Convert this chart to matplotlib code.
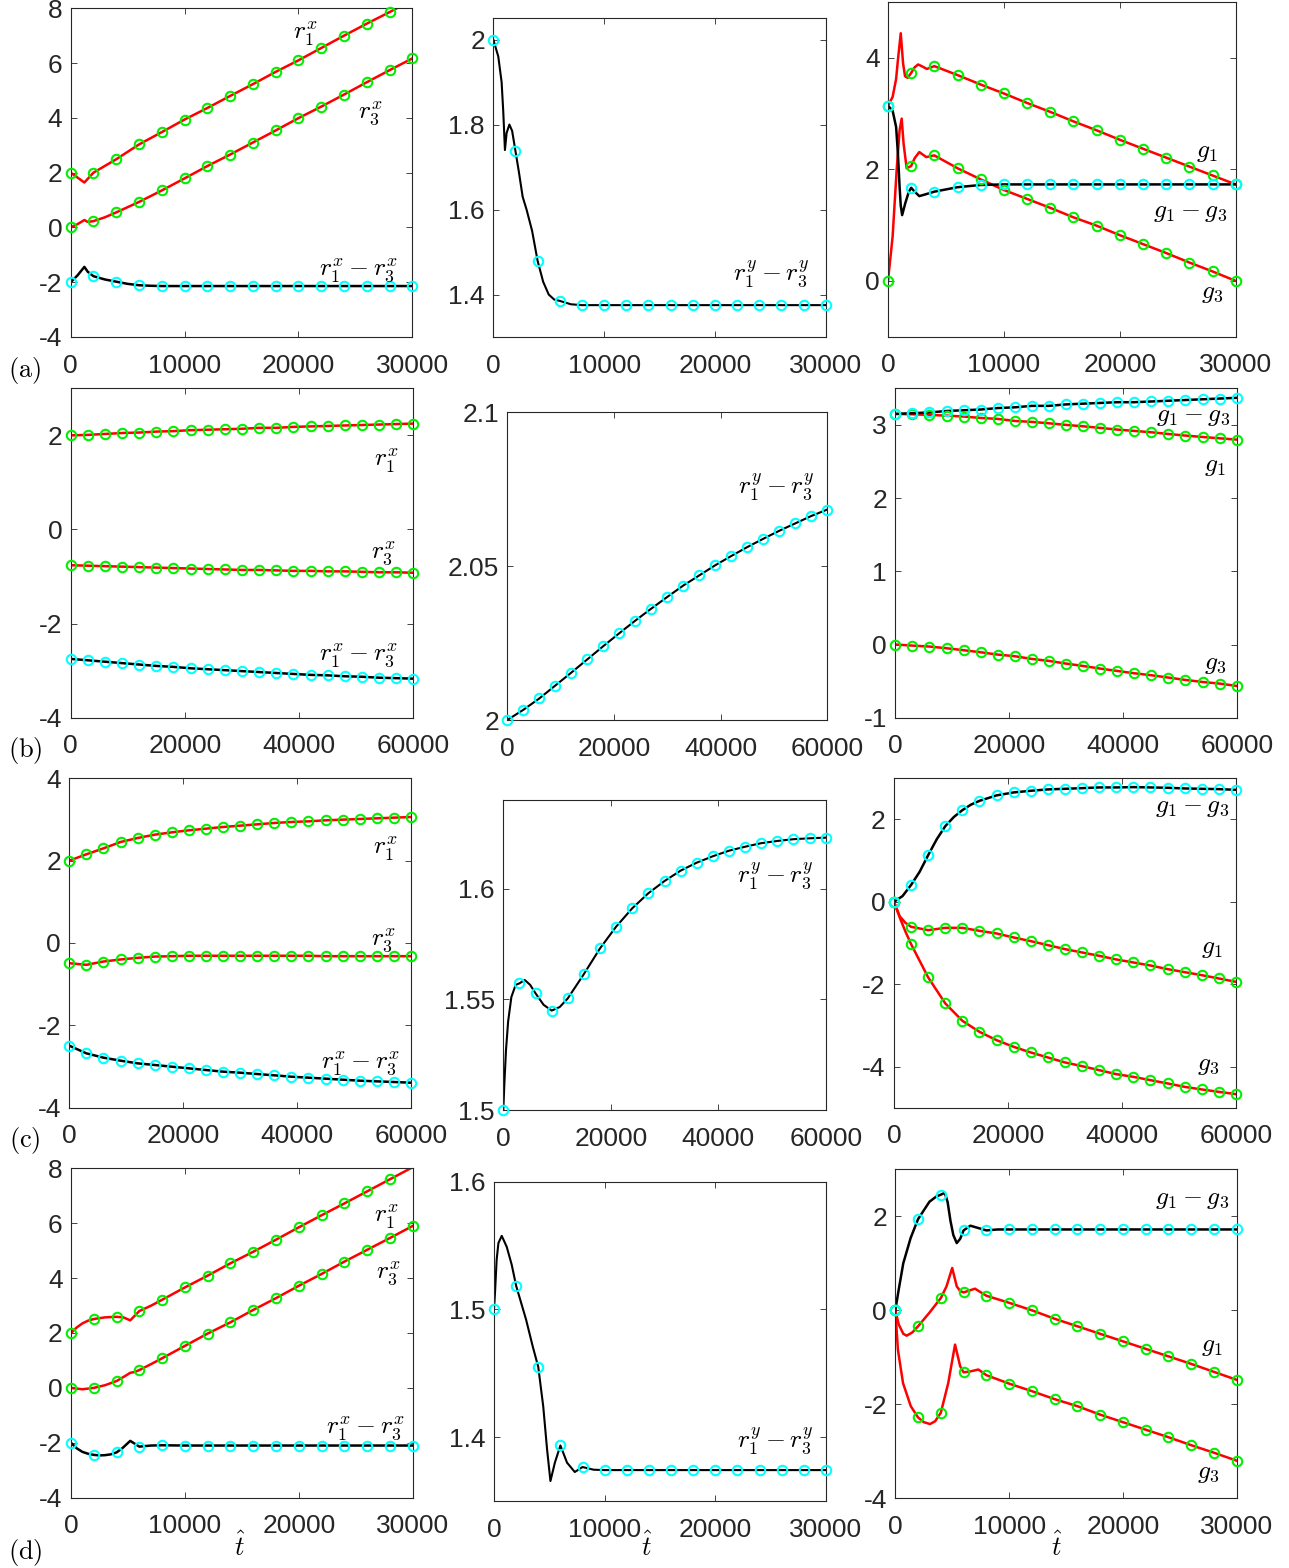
import numpy as np
import matplotlib
matplotlib.use('Agg')
import matplotlib.pyplot as plt
from matplotlib.ticker import FuncFormatter

plt.rcParams['font.family'] = ['Liberation Sans', 'DejaVu Sans']
plt.rcParams['mathtext.fontset'] = 'cm'
plt.rcParams['axes.unicode_minus'] = False

# ---------------- data ----------------
# row (a): markers every 2000
a_r1_t = [0, 1200, 2000] + list(range(4000, 30001, 2000))
a_r1 = [2.0, 1.64, 2.0, 2.49, 3.03, 3.48, 3.94, 4.36, 4.80, 5.23, 5.68, 6.10,
        6.55, 7.00, 7.44, 7.86, 8.30]
a_r3_t = [0, 600, 1200, 1500, 2000, 3000, 4000] + list(range(6000, 30001, 2000))
a_r3 = [0.0, 0.12, 0.27, 0.20, 0.23, 0.37, 0.55, 0.93, 1.35, 1.79, 2.24, 2.66,
        3.10, 3.54, 3.99, 4.41, 4.85, 5.30, 5.74, 6.17]
a_dx_t = [0, 600, 1200, 1500, 2000, 3000, 4000, 5000, 6000, 7000, 8000] + list(range(10000, 30001, 2000))
a_dx = [-2.0, -1.75, -1.44, -1.62, -1.78, -1.90, -1.98, -2.06, -2.11, -2.13, -2.14,
        -2.14, -2.14, -2.14, -2.14, -2.14, -2.14, -2.14, -2.14, -2.14, -2.14, -2.14]

a_dy_t = [0, 450, 750, 900, 1050, 1200, 1450, 1700, 2000, 2300, 2650, 3000, 3500,
          4000, 4500, 5000, 5500, 6000, 7000, 8000] + list(range(10000, 30001, 2000))
a_dy = [2.0, 1.96, 1.90, 1.83, 1.74, 1.78, 1.80, 1.785, 1.7375, 1.69, 1.63, 1.60, 1.55,
        1.479, 1.43, 1.40, 1.388, 1.385, 1.377, 1.375,
        1.375, 1.375, 1.375, 1.375, 1.375, 1.375, 1.375, 1.375, 1.375, 1.375, 1.375]

a_g1_t = [0, 400, 700, 850, 1100, 1300, 1470, 1700, 2000, 2300, 2600, 3000, 3350,
          4000] + list(range(6000, 30001, 2000))
a_g1 = [3.14, 3.30, 3.62, 3.95, 4.44, 3.90, 3.67, 3.64, 3.73, 3.83, 3.88, 3.84, 3.80,
        3.85, 3.69, 3.52, 3.36, 3.19, 3.03, 2.86, 2.70, 2.53, 2.37, 2.21, 2.05, 1.89, 1.73]
a_g3_t = [0, 400, 750, 1000, 1180, 1350, 1610, 2000, 2300, 2700, 3300, 4000] + list(range(6000, 30001, 2000))
a_g3 = [0.0, 0.80, 2.00, 2.70, 2.91, 2.45, 2.02, 2.06, 2.20, 2.31, 2.22, 2.25,
        2.02, 1.82, 1.63, 1.47, 1.31, 1.14, 0.99, 0.82, 0.66, 0.50, 0.33, 0.17, 0.0]
a_gd_t = [0, 400, 700, 850, 1000, 1100, 1220, 1500, 1800, 2000, 2300, 2700, 3200,
          4000, 6000, 8000] + list(range(10000, 30001, 2000))
a_gd = [3.14, 3.05, 2.76, 2.30, 1.69, 1.35, 1.18, 1.40, 1.60, 1.67, 1.60, 1.52, 1.55,
        1.60, 1.68, 1.72, 1.73, 1.73, 1.73, 1.73, 1.73, 1.73, 1.73, 1.73, 1.73, 1.73, 1.73]

# rows (b), (c): markers every 3000
t60 = list(range(0, 60001, 3000))
b_r1 = [2.00, 2.01, 2.03, 2.05, 2.06, 2.08, 2.09, 2.11, 2.12, 2.13, 2.14, 2.16, 2.16,
        2.18, 2.19, 2.20, 2.21, 2.22, 2.23, 2.24, 2.25]
b_r3 = [-0.76, -0.77, -0.78, -0.79, -0.80, -0.81, -0.82, -0.83, -0.84, -0.85, -0.86,
        -0.86, -0.87, -0.88, -0.88, -0.89, -0.89, -0.90, -0.91, -0.91, -0.92]
b_dx = [-2.75, -2.78, -2.81, -2.84, -2.87, -2.90, -2.92, -2.95, -2.97, -2.99, -3.01,
        -3.03, -3.05, -3.07, -3.09, -3.10, -3.12, -3.13, -3.15, -3.16, -3.17]
b_dy = [2.0, 2.0033, 2.0070, 2.0112, 2.0154, 2.0197, 2.0240, 2.0282, 2.0323, 2.0362,
        2.0400, 2.0437, 2.0470, 2.0503, 2.0533, 2.0562, 2.0589, 2.0615, 2.0639, 2.0663, 2.0684]
b_gd = [3.15, 3.16, 3.17, 3.19, 3.20, 3.21, 3.23, 3.24, 3.26, 3.26, 3.28, 3.29, 3.30,
        3.31, 3.31, 3.32, 3.33, 3.34, 3.35, 3.36, 3.37]
b_g1 = [3.15, 3.145, 3.136, 3.127, 3.114, 3.095, 3.082, 3.054, 3.041, 3.022, 3.000,
        2.981, 2.959, 2.936, 2.918, 2.899, 2.876, 2.854, 2.835, 2.817, 2.799]
b_g3 = [0.0, -0.015, -0.028, -0.051, -0.078, -0.106, -0.138, -0.160, -0.197, -0.224,
        -0.261, -0.293, -0.329, -0.361, -0.393, -0.420, -0.452, -0.484, -0.512, -0.534, -0.566]

c_r1 = [2.000, 2.154, 2.299, 2.453, 2.550, 2.631, 2.688, 2.737, 2.777, 2.818, 2.850,
        2.882, 2.915, 2.939, 2.955, 2.980, 2.996, 3.012, 3.028, 3.044, 3.060]
c_r3 = [-0.49, -0.53, -0.45, -0.40, -0.36, -0.33, -0.32, -0.31, -0.31, -0.31, -0.31,
        -0.31, -0.31, -0.31, -0.31, -0.32, -0.32, -0.32, -0.32, -0.32, -0.32]
c_dx = [-2.494, -2.680, -2.785, -2.858, -2.923, -2.963, -3.004, -3.044, -3.085, -3.125,
        -3.150, -3.182, -3.214, -3.247, -3.271, -3.295, -3.320, -3.344, -3.360, -3.376, -3.393]
c_dy_t = [0, 200, 500, 900, 1500, 2300, 3000, 4000, 5000, 6000, 7500, 9000, 10500,
          12000] + list(range(15000, 60001, 3000))
c_dy = [1.5, 1.512, 1.527, 1.540, 1.551, 1.5565, 1.5572, 1.5587, 1.5565, 1.5527, 1.5475,
        1.5449, 1.5465, 1.5504, 1.5614, 1.5730, 1.5828, 1.5911, 1.5979, 1.6034, 1.6081,
        1.6117, 1.6146, 1.6171, 1.6189, 1.6205, 1.6215, 1.6223, 1.6227, 1.6230]
c_gd_t = [0, 1500, 3000, 4500, 6000, 7500, 9000, 10500, 12000, 13500, 15000] + list(range(18000, 60001, 3000))
c_gd = [0.0, 0.14, 0.41, 0.73, 1.135, 1.52, 1.838, 2.06, 2.227, 2.36, 2.453, 2.585,
        2.657, 2.697, 2.730, 2.745, 2.761, 2.778, 2.778, 2.786, 2.778, 2.770, 2.753,
        2.745, 2.737, 2.720]
c_g1_t = [0, 1000, 2000] + list(range(3000, 60001, 3000))
c_g1 = [0.0, -0.35, -0.51, -0.607, -0.688, -0.632, -0.632, -0.705, -0.769, -0.866,
        -0.955, -1.052, -1.149, -1.230, -1.311, -1.400, -1.473, -1.546, -1.635, -1.708,
        -1.781, -1.862, -1.943]
c_g3_t = [0, 1000, 2000] + list(range(3000, 60001, 3000))
c_g3 = [0.0, -0.38, -0.72, -1.028, -1.837, -2.468, -2.890, -3.158, -3.360, -3.522,
        -3.659, -3.780, -3.901, -3.991, -4.088, -4.185, -4.251, -4.331, -4.411, -4.494,
        -4.557, -4.615, -4.671]

# row (d): markers every 2000
d_r1_t = [0, 500, 1000, 1500, 2000, 3000, 4000, 4600, 5200, 6000, 7000, 8000] + list(range(10000, 30001, 2000))
d_r1 = [2.0, 2.2, 2.35, 2.45, 2.51, 2.57, 2.59, 2.57, 2.46, 2.80, 2.99, 3.21,
        3.66, 4.09, 4.54, 4.96, 5.40, 5.85, 6.29, 6.72, 7.16, 7.60, 8.04]
d_r3_t = [0, 1000, 2000, 3000, 4000, 4700, 5200, 5600, 6000, 7000, 8000] + list(range(10000, 30001, 2000))
d_r3 = [0.0, -0.05, 0.0, 0.10, 0.25, 0.42, 0.55, 0.58, 0.65, 0.86, 1.08,
        1.53, 1.98, 2.39, 2.84, 3.27, 3.72, 4.15, 4.60, 5.03, 5.46, 5.90]
d_dx_t = [0, 500, 1000, 1500, 2000, 2500, 3000, 3500, 4000, 4500, 5200, 5700, 6000,
          7000, 8000] + list(range(10000, 30001, 2000))
d_dx = [-2.0, -2.2, -2.33, -2.40, -2.44, -2.46, -2.45, -2.42, -2.35, -2.2, -1.93, -2.06,
        -2.14, -2.10, -2.09, -2.10, -2.10, -2.10, -2.10, -2.10, -2.10, -2.10, -2.10,
        -2.10, -2.10, -2.10]
d_dy_t = [0, 90, 240, 400, 700, 1150, 1600, 2000, 2900, 3500, 4000, 4450, 4800, 5100,
          5500, 6000, 6600, 7300, 8000, 9000] + list(range(10000, 30001, 2000))
d_dy = [1.5, 1.513, 1.539, 1.552, 1.5576, 1.549, 1.535, 1.5185, 1.492, 1.471, 1.4549,
        1.424, 1.390, 1.3656, 1.380, 1.3935, 1.380, 1.3727, 1.3766, 1.3745,
        1.3742, 1.3742, 1.3742, 1.3742, 1.3742, 1.3742, 1.3742, 1.3742, 1.3742, 1.3742, 1.3742]
d_gd_t = [0, 300, 700, 1350, 2000, 3000, 3600, 4000, 4350, 4600, 4850, 5100, 5400,
          5700, 6000, 6600, 7300, 8000, 9000] + list(range(10000, 30001, 2000))
d_gd = [0.0, 0.44, 1.0, 1.54, 1.94, 2.31, 2.42, 2.46, 2.50, 2.30, 1.90, 1.60, 1.43,
        1.52, 1.70, 1.80, 1.75, 1.70, 1.72,
        1.72, 1.72, 1.72, 1.72, 1.72, 1.72, 1.72, 1.72, 1.72, 1.72, 1.72]
d_g1_t = [0, 300, 700, 1000, 1500, 2000, 3000, 4000, 4500, 5000, 5400, 5700, 6000,
          7000, 8000] + list(range(10000, 30001, 2000))
d_g1 = [0.0, -0.30, -0.50, -0.54, -0.47, -0.34, -0.05, 0.26, 0.51, 0.90, 0.51, 0.41,
        0.38, 0.46, 0.31, 0.16, 0.0, -0.18, -0.34, -0.50, -0.66, -0.82, -0.98, -1.14,
        -1.31, -1.48]
d_g3_t = [0, 230, 680, 1360, 2000, 2500, 3050, 3500, 4000, 4650, 5250, 5700, 6000,
          6600, 7300, 8000] + list(range(10000, 30001, 2000))
d_g3 = [0.0, -0.84, -1.55, -2.04, -2.28, -2.38, -2.42, -2.36, -2.18, -1.55, -0.73,
        -1.19, -1.32, -1.30, -1.26, -1.38, -1.56, -1.72, -1.89, -2.04, -2.22, -2.38,
        -2.54, -2.70, -2.87, -3.03, -3.20]

# ---------------- figure ----------------
W, H = 1289, 1568
fig = plt.figure(figsize=(W / 100, H / 100), dpi=100)

RED, BLACK, GREEN, CYAN = '#ff0000', '#000000', '#00f000', '#00ffff'
INK = '#262626'
LABEL_SIZE = 18.5


def box(x0, x1, top, bottom):
    return [x0 / W, 1 - bottom / H, (x1 - x0) / W, (bottom - top) / H]


def panel(rect, xmax, xticks, ylim, yticks, curves, labels, step, lw=1.8):
    ax = fig.add_axes(rect)
    for t, v, lc, mc in curves:
        t = np.asarray(t)
        v = np.asarray(v)
        ax.plot(t, v, color=lc, lw=lw, zorder=2)
        m = (t % step == 0) & (v >= ylim[0]) & (v <= ylim[1])
        ax.plot(t[m], v[m], 'o', ms=6.8, mfc='none', mec=mc, mew=1.5,
                zorder=3, clip_on=False)
    ax.set_xlim(0, xmax)
    ax.set_ylim(*ylim)
    ax.set_xticks(xticks)
    ax.set_yticks(yticks)
    fmt = FuncFormatter(lambda x, p: '%g' % x)
    ax.xaxis.set_major_formatter(fmt)
    ax.yaxis.set_major_formatter(fmt)
    ax.tick_params(direction='in', top=True, right=True, length=4, width=0.6,
                   color=INK, labelcolor=INK, labelsize=19)
    ax.tick_params(axis='x', pad=12)
    ax.tick_params(axis='y', pad=6)
    for s in ax.spines.values():
        s.set_color(INK)
        s.set_linewidth(0.8)
    for x, y, s in labels:
        ax.text(x, y, s, fontsize=LABEL_SIZE, ha='center', va='center')
    return ax


xt30 = [0, 10000, 20000, 30000]
xt60 = [0, 20000, 40000, 60000]

# row (a)
panel(box(70.7, 412.3, 8.3, 337), 30000, xt30, (-4, 8), [-4, -2, 0, 2, 4, 6, 8],
      [(a_r1_t, a_r1, RED, GREEN), (a_r3_t, a_r3, RED, GREEN), (a_dx_t, a_dx, BLACK, CYAN)],
      [(20585, 7.08, r'$r_1^x$'), (26285, 4.16, r'$r_3^x$'), (25257, -1.56, r'$r_1^x - r_3^x$')],
      2000)
panel(box(493.3, 825.7, 18.3, 337), 30000, xt30, (1.3, 2.05), [1.4, 1.6, 1.8, 2],
      [(a_dy_t, a_dy, BLACK, CYAN)],
      [(25126, 1.449, r'$r_1^y - r_3^y$')], 2000, lw=1.5)
panel(box(888, 1235.7, 2, 336.7), 30000, xt30, (-1, 5), [0, 2, 4],
      [(a_g1_t, a_g1, RED, GREEN), (a_g3_t, a_g3, RED, GREEN), (a_gd_t, a_gd, BLACK, CYAN)],
      [(27498, 2.31, r'$g_1$'), (26057, 1.24, r'$g_1 - g_3$'), (27930, -0.22, r'$g_3$')],
      2000)

# row (b)
panel(box(70.7, 413.3, 388.3, 717.7), 60000, xt60, (-4, 3), [-4, -2, 0, 2],
      [(t60, b_r1, RED, GREEN), (t60, b_r3, RED, GREEN), (t60, b_dx, BLACK, CYAN)],
      [(55341, 1.47, r'$r_1^x$'), (54746, -0.51, r'$r_3^x$'), (50368, -2.66, r'$r_1^x - r_3^x$')],
      3000)
panel(box(507.3, 827.3, 412.3, 720), 60000, xt60, (2, 2.1), [2, 2.05, 2.1],
      [(t60, b_dy, BLACK, CYAN)],
      [(50513, 2.076, r'$r_1^y - r_3^y$')], 3000, lw=1.5)
panel(box(895.3, 1236.7, 388.3, 717.7), 60000, xt60, (-1, 3.5), [-1, 0, 1, 2, 3],
      [(t60, b_g1, RED, GREEN), (t60, b_g3, RED, GREEN), (t60, b_gd, BLACK, CYAN)],
      [(52373, 3.12, r'$g_1 - g_3$'), (56186, 2.44, r'$g_1$'), (56186, -0.26, r'$g_3$')],
      3000)

# row (c)
panel(box(69.3, 411, 778.3, 1107.7), 60000, xt60, (-4, 4), [-4, -2, 0, 2, 4],
      [(t60, c_r1, RED, GREEN), (t60, c_r3, RED, GREEN), (t60, c_dx, BLACK, CYAN)],
      [(55434, 2.30, r'$r_1^x$'), (55136, 0.07, r'$r_3^x$'), (51045, -2.92, r'$r_1^x - r_3^x$')],
      3000)
panel(box(503.3, 825.7, 800, 1110), 60000, xt60, (1.5, 1.64), [1.5, 1.55, 1.6],
      [(c_dy_t, c_dy, BLACK, CYAN)],
      [(50565, 1.6061, r'$r_1^y - r_3^y$')], 3000, lw=1.5)
panel(box(894, 1236, 778.3, 1107.7), 60000, xt60, (-5, 3), [-4, -2, 0, 2],
      [(c_g1_t, c_g1, RED, GREEN), (c_g3_t, c_g3, RED, GREEN), (c_gd_t, c_gd, BLACK, CYAN)],
      [(52228, 2.31, r'$g_1 - g_3$'), (55737, -1.13, r'$g_1$'), (55140, -3.97, r'$g_3$')],
      3000)

# row (d)
panel(box(71, 412.7, 1168.3, 1497.7), 30000, xt30, (-4, 8), [-4, -2, 0, 2, 4, 6, 8],
      [(d_r1_t, d_r1, RED, GREEN), (d_r3_t, d_r3, RED, GREEN), (d_dx_t, d_dx, BLACK, CYAN)],
      [(27717, 6.24, r'$r_1^x$'), (27858, 4.17, r'$r_3^x$'), (25812, -1.47, r'$r_1^x - r_3^x$')],
      2000)
panel(box(494, 826, 1181.7, 1501), 30000, xt30, (1.35, 1.6), [1.4, 1.5, 1.6],
      [(d_dy_t, d_dy, BLACK, CYAN)],
      [(25392, 1.397, r'$r_1^y - r_3^y$')], 2000, lw=1.5)
panel(box(895.3, 1236.7, 1169.3, 1498.3), 30000, xt30, (-4, 3), [-4, -2, 0, 2],
      [(d_g1_t, d_g1, RED, GREEN), (d_g3_t, d_g3, RED, GREEN), (d_gd_t, d_gd, BLACK, CYAN)],
      [(26046, 2.37, r'$g_1 - g_3$'), (27803, -0.77, r'$g_1$'), (27504, -3.46, r'$g_3$')],
      2000)

# panel letters and x labels
for y, s in [(371, '(a)'), (750, '(b)'), (1140, '(c)'), (1552, '(d)')]:
    fig.text(25 / W, 1 - y / H, r'$\mathrm{%s}$' % s, fontsize=19, ha='center', va='center')
for x in [240, 647, 1057]:
    fig.text(x / W, 1 - 1546 / H, r'$\hat{t}$', fontsize=19, ha='center', va='center')

fig.savefig('out.png', dpi=100)
